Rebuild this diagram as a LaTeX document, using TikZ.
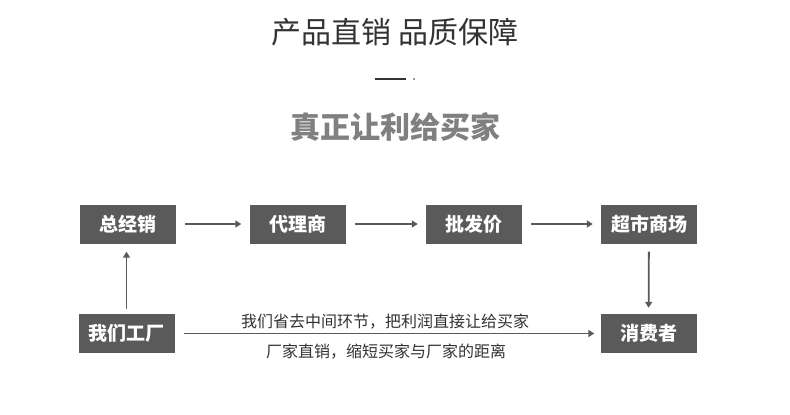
\documentclass[tikz,border=0pt]{standalone}
\usepackage{fontspec}
\setmainfont{Noto Sans CJK SC}
\newfontfamily\cjk{Noto Sans CJK SC}
\usetikzlibrary{arrows.meta}
\definecolor{boxgray}{RGB}{90,90,90}
\definecolor{titlegray}{RGB}{51,51,51}
\definecolor{subgray}{RGB}{128,128,128}
\tikzset{
  stagebox/.style={fill=boxgray, text=white, minimum width=96pt, minimum height=39pt, inner sep=0pt, font=\cjk\bfseries\fontsize{19}{19}\selectfont},
  flow/.style={draw=boxgray, line width=1.8pt, -{Triangle[length=6pt,width=7pt]}},
  note/.style={text=titlegray, inner sep=0pt, font=\cjk\fontsize{16}{16}\selectfont}
}
\begin{document}
\begin{tikzpicture}[x=1pt,y=-1pt]
\useasboundingbox (0,0) rectangle (790,415);
\fill[white] (0,0) rectangle (790,415);
\node[text=titlegray, font=\cjk\fontsize{30}{30}\selectfont, inner sep=0pt] (title) at (395,32) {产品直销 品质保障};
\coordinate (dashL) at (375,79);
\coordinate (dashR) at (406,79);
\draw[titlegray, line width=1.6pt] (dashL) -- (dashR);
\fill[titlegray] (414,79) circle (0.9pt);
\node[text=subgray, font=\cjk\bfseries\fontsize{30}{30}\selectfont, inner sep=0pt] (sub) at (395,127) {真正让利给买家};
\node[stagebox] (a) at (127.5,224) {总经销};
\node[stagebox] (b) at (297.5,224) {代理商};
\node[stagebox] (c) at (474,224) {批发价};
\node[stagebox] (d) at (649,224) {超市商场};
\node[stagebox] (f) at (126.5,333.5) {我们工厂};
\node[stagebox] (e) at (648.5,333.5) {消费者};
\draw[flow, shorten <=9pt, shorten >=8pt] (a) -- (b);
\draw[flow, shorten <=9pt, shorten >=8pt] (b) -- (c);
\draw[flow, shorten <=9pt, shorten >=8pt] (c) -- (d);
\draw[flow, shorten <=5pt, shorten >=8pt] (f) -- (f |- a.south);
\draw[flow, shorten <=8pt, shorten >=6pt] (d) -- (e);
\draw[flow, shorten <=9pt, shorten >=6pt] (f) -- (e);
\node[note] (n1) at (385,322) {我们省去中间环节，把利润直接让给买家};
\node[note] (n2) at (386,352) {厂家直销，缩短买家与厂家的距离};
\end{tikzpicture}
\end{document}
